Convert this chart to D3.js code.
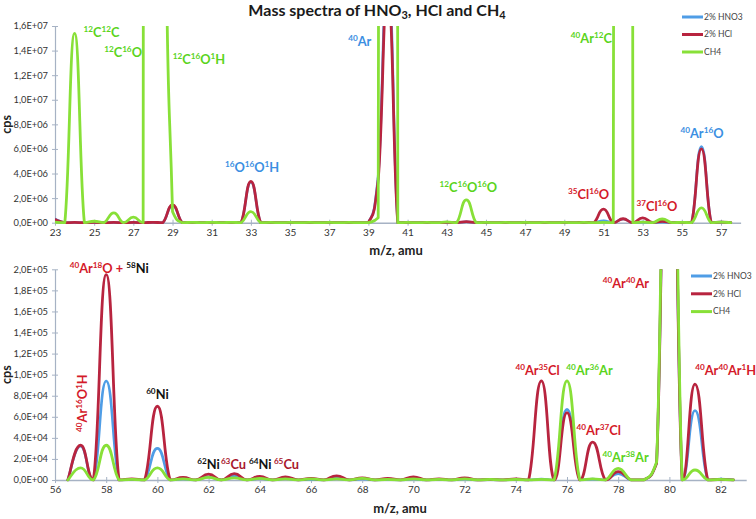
<!DOCTYPE html>
<html><head><meta charset="utf-8">
<script src="https://cdn.jsdelivr.net/npm/d3@7"></script>
<style>body{margin:0;background:#fff}svg{display:block}</style>
</head><body>
<svg id="chart" width="756" height="519"></svg>
<script>
// ---------- DATA ----------
const topMz = [23,23.5,24,24.5,25,25.5,26,26.5,27,27.5,28,28.5,29,29.5,30,30.5,31,31.5,32,32.5,33,33.5,34,34.5,35,35.5,36,36.5,37,37.5,38,38.5,39,39.5,40,40.5,41,41.5,42,42.5,43,43.5,44,44.5,45,45.5,46,46.5,47,47.5,48,48.5,49,49.5,50,50.5,51,51.5,52,52.5,53,53.5,54,54.5,55,55.5,56,56.5,57,57.5];
const topHNO3 = [3e5,0,2e4,0,2e4,0,2e4,0,2e4,0,3e4,0,1.4e6,0,2e4,0,2e4,0,2e4,0,3.3e6,0,2e4,0,2e4,0,2e4,0,2e4,0,2e4,0,0,3.8e6,2.1e7,0,2e4,0,2e4,0,3e4,0,8e4,0,2e4,0,2e4,0,2e4,0,2e4,0,2e4,0,3e4,0,1.5e5,0,3e5,0,5e4,0,5e4,0,2e4,0,6.2e6,0,5e4,0];
const topHCl  = [2.5e5,0,2e4,0,2e4,0,2e4,0,2e4,0,3e4,0,1.45e6,0,2e4,0,2e4,0,2e4,0,3.35e6,0,2e4,0,2e4,0,2e4,0,2e4,0,2e4,0,0,3.5e6,1.95e7,0,2e4,0,2e4,0,3e4,0,8e4,0,2e4,0,2e4,0,2e4,0,2e4,0,2e4,0,3e4,0,1.1e6,0,3.2e5,0,4e5,0,1.2e5,0,2e4,0,6.0e6,0,5e4,0];
const topCH4  = [5e4,0,1.54e7,0,1.2e5,0,8e5,0,4.5e5,0,1e9,6e7,9e5,0,3e4,0,3e4,0,3e4,0,9e5,0,2e4,0,2e4,0,2e4,0,2e4,0,2e4,0,1e4,4e5,1e9,0,2e4,0,2e4,0,6e4,0,1.85e6,0,2e4,0,2e4,0,2e4,0,2e4,0,2e4,0,2e4,0,2e4,0,1e9,0,5e4,0,3e5,0,3e4,0,1.2e6,0,5e4,0];

const botMz = [56.5,57,57.5,58,58.5,59,59.5,60,60.5,61,61.5,62,62.5,63,63.5,64,64.5,65,65.5,66,66.5,67,67.5,68,68.5,69,69.5,70,70.5,71,71.5,72,72.5,73,73.5,74,74.5,75,75.5,76,76.5,77,77.5,78,78.5,79,79.5,80,80.5,81,81.5,82,82.5];
const botHNO3 = [0,3.2e4,0,9.4e4,0,5e2,0,3.0e4,0,1e3,0,3e3,0,4e3,0,1.5e3,0,1.5e3,0,5e2,0,1.5e3,0,1e3,0,5e2,0,1e3,0,5e2,0,1e3,0,3e2,0,5e2,0,1e3,0,6.7e4,0,8e2,0,6e3,0,0,1.6e4,5.5e5,0,6.6e4,0,1e3,0];
const botHCl  = [0,3.3e4,0,1.95e5,0,1e3,0,7.0e4,0,2.5e3,0,5.5e3,0,6e3,0,3.5e3,0,3e3,0,1.5e3,0,4e3,0,2e3,0,1.5e3,0,3e3,0,1e3,0,2e3,0,5e2,0,1e3,0,9.4e4,0,6.4e4,0,3.6e4,0,8e3,0,0,1.6e4,5.5e5,0,9.1e4,0,5e2,0];
const botCH4  = [0,1.15e4,0,3.3e4,0,5e2,0,1.15e4,0,1e3,0,2.5e3,0,2e3,0,1.5e3,0,1e3,0,1e3,0,1e3,0,1.5e3,0,5e2,0,1e3,0,5e2,0,1e3,0,5e2,0,5e2,0,5e2,0,9.4e4,0,1e3,0,1.1e4,0,0,1.7e4,6e5,0,9.5e3,0,5e2,0];

const seriesNames = ["2% HNO3", "2% HCl", "CH4"];
const topXTicks = [23,25,27,29,31,33,35,37,39,41,43,45,47,49,51,53,55,57];
const botXTicks = [56,58,60,62,64,66,68,70,72,74,76,78,80,82];
const topYTicks = [0,2e6,4e6,6e6,8e6,1e7,1.2e7,1.4e7,1.6e7];
const botYTicks = [0,2e4,4e4,6e4,8e4,1e5,1.2e5,1.4e5,1.6e5,1.8e5,2e5];

// label parts: [text, 1 = superscript, 0 = normal, optional colour key]
const topLabels = [
  {p:[["12",1],["C",0],["12",1],["C",0]], c:"g", mz:25.37, v:1.51e7, a:"middle"},
  {p:[["12",1],["C",0],["16",1],["O",0]], c:"g", mz:27.44, v:1.35e7, a:"end"},
  {p:[["12",1],["C",0],["16",1],["O",0],["1",1],["H",0]], c:"g", mz:30.35, v:1.29e7, a:"middle"},
  {p:[["16",1],["O",0],["16",1],["O",0],["1",1],["H",0]], c:"b", mz:33.06, v:4.1e6, a:"middle"},
  {p:[["40",1],["Ar",0]], c:"b", mz:39.15, v:1.44e7, a:"end"},
  {p:[["12",1],["C",0],["16",1],["O",0],["16",1],["O",0]], c:"g", mz:44.1, v:2.5e6, a:"middle"},
  {p:[["35",1],["Cl",0],["16",1],["O",0]], c:"r", mz:50.24, v:1.93e6, a:"middle"},
  {p:[["40",1],["Ar",0],["12",1],["C",0]], c:"g", mz:51.43, v:1.46e7, a:"end"},
  {p:[["37",1],["Cl",0],["16",1],["O",0]], c:"r", mz:53.73, v:0.95e6, a:"middle"},
  {p:[["40",1],["Ar",0],["16",1],["O",0]], c:"b", mz:56.03, v:6.9e6, a:"middle"}
];
const botLabels = [
  {p:[["40",1,"r"],["Ar",0,"r"],["18",1,"r"],["O + ",0,"r"],["58",1,"k"],["Ni",0,"k"]], c:"r", mz:58.12, v:1.968e5, a:"middle"},
  {p:[["60",1],["Ni",0]], c:"k", mz:60.0, v:7.66e4, a:"middle"},
  {p:[["62",1],["Ni",0]], c:"k", mz:62.0, v:1.02e4, a:"middle"},
  {p:[["63",1],["Cu",0]], c:"d", mz:62.97, v:1.02e4, a:"middle"},
  {p:[["64",1],["Ni",0]], c:"k", mz:64.02, v:1.02e4, a:"middle"},
  {p:[["65",1],["Cu",0]], c:"d", mz:65.04, v:1.02e4, a:"middle"},
  {p:[["40",1],["Ar",0],["35",1],["Cl",0]], c:"r", mz:74.85, v:9.97e4, a:"middle"},
  {p:[["40",1],["Ar",0],["36",1],["Ar",0]], c:"g", mz:76.88, v:9.97e4, a:"middle"},
  {p:[["40",1],["Ar",0],["37",1],["Cl",0]], c:"r", mz:77.24, v:4.27e4, a:"middle"},
  {p:[["40",1],["Ar",0],["38",1],["Ar",0]], c:"g", mz:78.29, v:1.74e4, a:"middle"},
  {p:[["40",1],["Ar",0],["40",1],["Ar",0]], c:"r", mz:78.3, v:1.82e5, a:"middle"},
  {p:[["40",1],["Ar",0],["40",1],["Ar",0],["1",1],["H",0]], c:"r", mz:82.2, v:9.97e4, a:"middle"},
  {p:[["40",1],["Ar",0],["16",1],["O",0],["1",1],["H",0]], c:"r", mz:57.25, v:4.56e4, a:"start", rot:true}
];

// ---------- STYLE ----------
const lineColors = ["#4f9de6", "#b8243f", "#88e038"];
const labelColors = {g:"#5ad41c", b:"#3b8fe2", r:"#d41a2a", k:"#111111", d:"#a8162c"};
const axisColor = "#a6b2c4";
const FONT = "Lato, 'Open Sans', 'DejaVu Sans', sans-serif";
const LABEL_SIZE = 12.8;

const svg = d3.select("#chart");

// cardinal-style smoothing (like a spreadsheet "smoothed line") whose control
// points are kept within each segment's value range, so no undershoot below 0
function smoothClamped(k) {
  function Curve(context) { this._context = context; }
  Curve.prototype = {
    areaStart() {}, areaEnd() {},
    lineStart() { this._p = []; },
    point(x, y) { this._p.push([+x, +y]); },
    lineEnd() {
      const p = this._p, n = p.length, c = this._context;
      if (!n) return;
      c.moveTo(p[0][0], p[0][1]);
      for (let i = 0; i < n - 1; i++) {
        const p0 = p[Math.max(i - 1, 0)], p1 = p[i], p2 = p[i + 1], p3 = p[Math.min(i + 2, n - 1)];
        const lo = Math.min(p1[1], p2[1]), hi = Math.max(p1[1], p2[1]);
        const cl = v => Math.max(lo, Math.min(hi, v));
        c.bezierCurveTo(
          p1[0] + k * (p2[0] - p0[0]), cl(p1[1] + k * (p2[1] - p0[1])),
          p2[0] - k * (p3[0] - p1[0]), cl(p2[1] - k * (p3[1] - p1[1])),
          p2[0], p2[1]);
      }
    }
  };
  return context => new Curve(context);
}

function sciFmt(v) {
  if (v === 0) return "0,0E+00";
  const e = Math.floor(Math.log10(v) + 1e-9);
  const m = v / Math.pow(10, e);
  return m.toFixed(1).replace(".", ",") + "E+" + String(e).padStart(2, "0");
}

function rich(sel, parts, size) {
  let shift = 0;
  parts.forEach(([t, sup, col]) => {
    const want = sup ? -size * 0.4 : 0;
    const ts = sel.append("tspan").attr("dy", want - shift)
      .attr("font-size", sup ? size * 0.64 : size).text(t);
    if (col) ts.attr("fill", labelColors[col]);
    shift = want;
  });
}

function panel(cfg) {
  const x = d3.scaleLinear().domain(cfg.xDomain).range(cfg.xRange);
  const y = d3.scaleLinear().domain(cfg.yDomain).range(cfg.yRange);
  const g = svg.append("g");
  const clipId = "clip" + cfg.id;
  svg.append("defs").append("clipPath").attr("id", clipId)
    .append("rect").attr("x", cfg.xRange[0]).attr("y", cfg.yRange[1])
    .attr("width", cfg.xRange[1] - cfg.xRange[0])
    .attr("height", cfg.yRange[0] - cfg.yRange[1] + 1.6);

  // y axis
  const ya = g.append("g").attr("transform", `translate(${cfg.xRange[0]},0)`)
    .call(d3.axisLeft(y).tickValues(cfg.yTicks).tickFormat(sciFmt).tickSize(3).tickPadding(4).tickSizeOuter(0));
  ya.select(".domain").attr("stroke", axisColor).attr("stroke-width", 1.2);
  ya.selectAll(".tick line").attr("stroke", axisColor).attr("x1", 3).attr("x2", -3);
  ya.selectAll(".tick text").attr("font-family", FONT).attr("font-size", 9.3).attr("fill", "#333");

  // x axis
  const xa = g.append("g").attr("transform", `translate(0,${cfg.yRange[0]})`)
    .call(d3.axisBottom(x).tickValues(cfg.xTicks).tickFormat(d3.format("d")).tickSize(3).tickPadding(3).tickSizeOuter(0));
  xa.select(".domain").attr("stroke", axisColor).attr("stroke-width", 1.6);
  xa.selectAll(".tick line").attr("stroke", axisColor).attr("y1", -3).attr("y2", 3);
  xa.selectAll(".tick text").attr("font-family", FONT).attr("font-size", 10).attr("fill", "#333");

  // titles
  g.append("text").attr("transform", `translate(${cfg.cpsX},${(cfg.yRange[0] + cfg.yRange[1]) / 2}) rotate(-90)`)
    .attr("text-anchor", "middle").attr("dy", "0.35em").attr("font-family", FONT)
    .attr("font-weight", 700).attr("font-size", 12.5).attr("fill", "#222").text("cps");
  g.append("text").attr("x", cfg.xTitleX).attr("y", cfg.xTitleY).attr("text-anchor", "middle")
    .attr("font-family", FONT).attr("font-weight", 700).attr("font-size", 13).attr("fill", "#222").text("m/z, amu");

  // lines
  const line = d3.line().x(d => x(d[0])).y(d => y(d[1])).curve(smoothClamped(0.25));
  const lg = g.append("g").attr("clip-path", `url(#${clipId})`);
  cfg.series.forEach((vals, i) => {
    const pts = cfg.mz.map((m, j) => [m, vals[j]]);
    lg.append("path").attr("d", line(pts)).attr("fill", "none")
      .attr("stroke", lineColors[i]).attr("stroke-width", i === 0 ? 2.6 : 2.8)
      .attr("stroke-linejoin", "round").attr("stroke-linecap", "round");
  });

  // labels
  cfg.labels.forEach(L => {
    const t = g.append("text").attr("font-family", FONT).attr("font-weight", 700)
      .attr("fill", labelColors[L.c]).attr("text-anchor", L.a);
    if (L.rot) t.attr("transform", `translate(${x(L.mz)},${y(L.v)}) rotate(-90)`);
    else t.attr("x", x(L.mz)).attr("y", y(L.v));
    rich(t, L.p, LABEL_SIZE);
  });

  // legend
  const leg = g.append("g").attr("transform", `translate(${cfg.legX},${cfg.legY})`);
  seriesNames.forEach((n, i) => {
    const yy = i * cfg.legStep;
    leg.append("line").attr("x1", 0).attr("x2", 21).attr("y1", yy).attr("y2", yy)
      .attr("stroke", lineColors[i]).attr("stroke-width", 3);
    leg.append("text").attr("x", 22).attr("y", yy).attr("dy", "0.33em")
      .attr("font-family", FONT).attr("font-size", 8.5).attr("fill", "#444").text(n);
  });
}

panel({id: "top", mz: topMz, series: [topHNO3, topHCl, topCH4],
  xDomain: [23, 58], xRange: [55, 740.6], yDomain: [0, 1.6e7], yRange: [222.7, 26],
  xTicks: topXTicks, yTicks: topYTicks, labels: topLabels,
  cpsX: 7, xTitleX: 396, xTitleY: 255, legX: 682, legY: 17, legStep: 17.5});

panel({id: "bot", mz: botMz, series: [botHNO3, botHCl, botCH4],
  xDomain: [56, 83], xRange: [55, 746.2], yDomain: [0, 2e5], yRange: [480, 269.3],
  xTicks: botXTicks, yTicks: botYTicks, labels: botLabels,
  cpsX: 7, xTitleX: 400, xTitleY: 513, legX: 691, legY: 276, legStep: 17.8});

// chart title
const title = svg.append("text").attr("x", 377).attr("y", 16).attr("text-anchor", "middle")
  .attr("font-family", FONT).attr("font-weight", 700).attr("font-size", 16).attr("fill", "#1a1a1a");
title.append("tspan").text("Mass spectra of HNO");
title.append("tspan").attr("font-size", 11).attr("dy", 3).text("3");
title.append("tspan").attr("dy", -3).text(", HCl and CH");
title.append("tspan").attr("font-size", 11).attr("dy", 3).text("4");
</script>
</body></html>
